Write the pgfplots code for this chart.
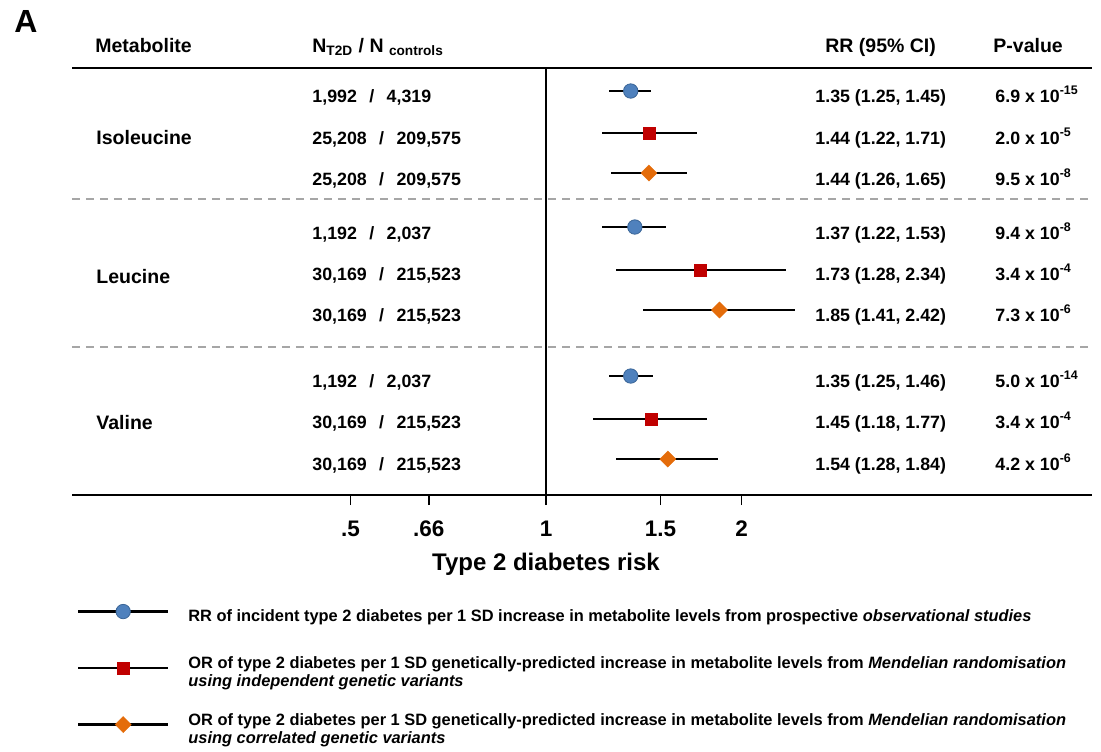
\documentclass[border=0pt]{standalone}
\usepackage{fontspec}
\setmainfont{Liberation Sans}
\usepackage{pgfplots}
\pgfplotsset{compat=1.18}
\usepackage{pgfplotstable}
\definecolor{cblue}{HTML}{4F81BD}
\definecolor{cblueD}{HTML}{3A6597}
\definecolor{cred}{HTML}{C00000}
\definecolor{corange}{HTML}{E46C0A}
\definecolor{sepgray}{HTML}{A6A6A6}

% y = row position (layout), rr = estimate, lo/hi = 95% CI
\pgfplotstableread{
y rr lo hi
91 1.35 1.25 1.45
227 1.37 1.22 1.53
376 1.35 1.25 1.46
}\obs
\pgfplotstableread{
y rr lo hi
133 1.44 1.22 1.71
270 1.73 1.28 2.34
419 1.45 1.18 1.77
}\mrind
\pgfplotstableread{
y rr lo hi
173 1.44 1.26 1.65
310 1.85 1.41 2.42
459 1.54 1.28 1.84
}\mrcor

\newcommand{\Hf}{\fontsize{9.75}{11}\selectfont\bfseries}
\newcommand{\Bf}{\fontsize{8.9}{10.7}\selectfont\bfseries}
\newcommand{\sep}{\hspace{6.2pt}/\hspace{6.2pt}}

\pgfplotsset{
  fpleg/.style={legend image code/.code={
     \draw[black,line width=1.2pt] (0pt,0pt) -- (45pt,0pt);
     \draw[##1] plot coordinates {(22.5pt,0pt)};}},
  cibar/.style={forget plot, draw=none, mark=none,
     error bars/.cd, x dir=both, x explicit,
     error bar style={draw=black, line width=1.25pt}, error mark=none},
}

\begin{document}
\begin{tikzpicture}
\begin{axis}[
  at={(36pt,-247.5pt)}, anchor=south west,
  scale only axis, width=510pt, height=213.5pt,
  xmode=log, xmin=0.1862, xmax=6.93,
  ymin=68, ymax=495, y dir=reverse,
  axis line style={draw=none},
  ytick=\empty,
  xtick={0.5,0.66,1,1.5,2},
  xticklabels={.5,.66,1,1.5,2},
  xtick pos=left, tick align=outside,
  major tick length=5pt,
  xtick style={black, line width=0.7pt},
  xminorticks=false,
  /pgf/number format/assume math mode=true,
  xticklabel style={font=\fontsize{11.25}{13}\selectfont\bfseries, anchor=base, yshift=-15.5pt},
  xlabel={Type 2 diabetes risk},
  xlabel style={font=\fontsize{12}{14}\selectfont\bfseries, at={(axis description cs:0.4647,-0.177)}, anchor=base},
  clip=false,
  legend cell align=left,
  legend style={at={(axis description cs:0.0049,-0.2436)}, anchor=north west,
     draw=none, fill=none, inner sep=0pt, outer sep=0pt,
     row sep=15.75pt, column sep=9.5pt,
     font=\fontsize{8.2}{9}\selectfont\bfseries, nodes={inner sep=0pt}},
]
% reference line and separators
\addplot[black, line width=0.8pt, forget plot] coordinates {(1,68) (1,495)};
\addplot[sepgray, line width=0.75pt, dash pattern=on 4pt off 3pt, forget plot] coordinates {(0.1862,199) (6.93,199)};
\addplot[sepgray, line width=0.75pt, dash pattern=on 4pt off 3pt, forget plot] coordinates {(0.1862,347) (6.93,347)};
% confidence intervals
\addplot[cibar] table[x=rr, y=y, x error plus expr=\thisrow{hi}-\thisrow{rr}, x error minus expr=\thisrow{rr}-\thisrow{lo}] {\obs};
\addplot[cibar] table[x=rr, y=y, x error plus expr=\thisrow{hi}-\thisrow{rr}, x error minus expr=\thisrow{rr}-\thisrow{lo}] {\mrind};
\addplot[cibar] table[x=rr, y=y, x error plus expr=\thisrow{hi}-\thisrow{rr}, x error minus expr=\thisrow{rr}-\thisrow{lo}] {\mrcor};
% point estimates
\addplot[only marks, mark=*, mark size=3.6pt, mark options={fill=cblue, draw=cblueD, line width=0.4pt}, fpleg] table[x=rr, y=y] {\obs};
\addlegendentry{\parbox[c][18pt][c]{480pt}{\raggedright RR of incident type 2 diabetes per 1 SD increase in metabolite levels from prospective \textit{observational studies}}}
\addplot[only marks, mark=square*, mark size=3pt, mark options={fill=cred, draw=cred, line width=0.2pt}, fpleg] table[x=rr, y=y] {\mrind};
\addlegendentry{\parbox[c][18pt][c]{480pt}{\raggedright OR of type 2 diabetes per 1 SD genetically-predicted increase in metabolite levels from \textit{Mendelian randomisation}\newline\textit{using independent genetic variants}}}
\addplot[only marks, mark=square*, mark size=2.85pt, mark options={fill=corange, draw=corange, line width=0.2pt, rotate=45}, fpleg] table[x=rr, y=y] {\mrcor};
\addlegendentry{\parbox[c][18pt][c]{480pt}{\raggedright OR of type 2 diabetes per 1 SD genetically-predicted increase in metabolite levels from \textit{Mendelian randomisation}\newline\textit{using correlated genetic variants}}}
\end{axis}

\begin{scope}[x=0.5pt, y=-0.5pt, every node/.style={anchor=base west, inner sep=0pt}]
\draw[black, line width=1pt] (72,68) -- (1092,68);
\draw[black, line width=1pt] (72,495) -- (1092,495);
\node[font=\fontsize{16}{18}\selectfont\bfseries] at (14,32) {A};
% headers
\node[font=\Hf] at (95,52) {Metabolite};
\node[font=\Hf] at (312,52) {N\textsubscript{T2D} / N \textsubscript{controls}};
\node[font=\Hf] at (825,52) {RR (95\% CI)};
\node[font=\Hf] at (993,52) {P-value};
% metabolite names
\node[font=\Hf] at (96,144) {Isoleucine};
\node[font=\Hf] at (96,283) {Leucine};
\node[font=\Hf] at (96,429) {Valine};
% N column
\node[font=\Bf] at (312,102.4) {1,992\sep4,319};
\node[font=\Bf] at (312,144.4) {25,208\sep209,575};
\node[font=\Bf] at (312,185.4) {25,208\sep209,575};
\node[font=\Bf] at (312,239.4) {1,192\sep2,037};
\node[font=\Bf] at (312,280.4) {30,169\sep215,523};
\node[font=\Bf] at (312,321.4) {30,169\sep215,523};
\node[font=\Bf] at (312,387.4) {1,192\sep2,037};
\node[font=\Bf] at (312,428.4) {30,169\sep215,523};
\node[font=\Bf] at (312,470.4) {30,169\sep215,523};
% RR column
\node[font=\Bf] at (815,102.4) {1.35 (1.25, 1.45)};
\node[font=\Bf] at (815,144.4) {1.44 (1.22, 1.71)};
\node[font=\Bf] at (815,185.4) {1.44 (1.26, 1.65)};
\node[font=\Bf] at (815,239.4) {1.37 (1.22, 1.53)};
\node[font=\Bf] at (815,280.4) {1.73 (1.28, 2.34)};
\node[font=\Bf] at (815,321.4) {1.85 (1.41, 2.42)};
\node[font=\Bf] at (815,387.4) {1.35 (1.25, 1.46)};
\node[font=\Bf] at (815,428.4) {1.45 (1.18, 1.77)};
\node[font=\Bf] at (815,470.4) {1.54 (1.28, 1.84)};
% P column
\node[font=\Bf] at (995,102.4) {6.9 x 10\textsuperscript{-15}};
\node[font=\Bf] at (995,144.4) {2.0 x 10\textsuperscript{-5}};
\node[font=\Bf] at (995,185.4) {9.5 x 10\textsuperscript{-8}};
\node[font=\Bf] at (995,239.4) {9.4 x 10\textsuperscript{-8}};
\node[font=\Bf] at (995,280.4) {3.4 x 10\textsuperscript{-4}};
\node[font=\Bf] at (995,321.4) {7.3 x 10\textsuperscript{-6}};
\node[font=\Bf] at (995,387.4) {5.0 x 10\textsuperscript{-14}};
\node[font=\Bf] at (995,428.4) {3.4 x 10\textsuperscript{-4}};
\node[font=\Bf] at (995,470.4) {4.2 x 10\textsuperscript{-6}};
\end{scope}
\pgfresetboundingbox
\useasboundingbox (0,0) rectangle (550.5pt,-375.5pt);
\end{tikzpicture}
\end{document}
